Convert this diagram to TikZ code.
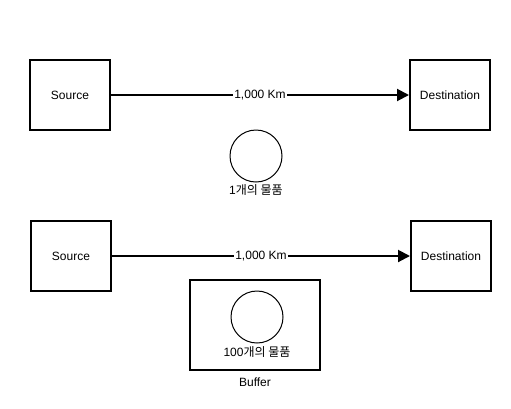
\documentclass[tikz,border=0pt]{standalone}
\usepackage{fontspec}
\setmainfont{Liberation Sans}
\newfontfamily\kr{Noto Sans CJK KR}
\usetikzlibrary{arrows.meta}
\tikzstyle{endpoint} = [rectangle, draw, line width=2pt, minimum width=80pt, minimum height=70pt, text centered, font=\fontsize{12}{14}\selectfont]
\tikzstyle{item} = [circle, draw, line width=1pt, minimum size=52pt, inner sep=0pt]
\tikzstyle{buffer} = [rectangle, draw, line width=2pt, minimum width=130pt, minimum height=90pt]
\tikzstyle{caption} = [text centered, font=\fontsize{12}{14}\selectfont]
\tikzstyle{arrow} = [line width=2pt, -{Triangle[length=12pt,width=12pt]}]

\begin{document}
\begin{tikzpicture}[x=1pt, y=-1pt]
    \useasboundingbox (0,0) rectangle (511,408);

    % one item over 1,000 Km
    \node [endpoint] at (70,95) (src1) {Source};
    \node [endpoint] at (450,95) (dst1) {Destination};
    \node [item] at (256,156) (item1) {};
    \node [caption] at (256,190) (item1lbl) {1{\kr 개의 물품}};

    \draw [arrow] (src1) -- node[caption, fill=white, inner sep=1pt] (dist1) {1,000 Km} (dst1);

    % a buffer of 100 items over 1,000 Km
    \node [endpoint] at (71,256) (src2) {Source};
    \node [endpoint] at (451,256) (dst2) {Destination};
    \node [buffer] at (255,325) (buf) {};
    \node [item] at (257,317) (item2) {};
    \node [caption] at (257,352) (item2lbl) {100{\kr 개의 물품}};
    \node [caption] at (255,382) (buflbl) {Buffer};

    \draw [arrow] (src2) -- node[caption, fill=white, inner sep=1pt] (dist2) {1,000 Km} (dst2);
\end{tikzpicture}
\end{document}
